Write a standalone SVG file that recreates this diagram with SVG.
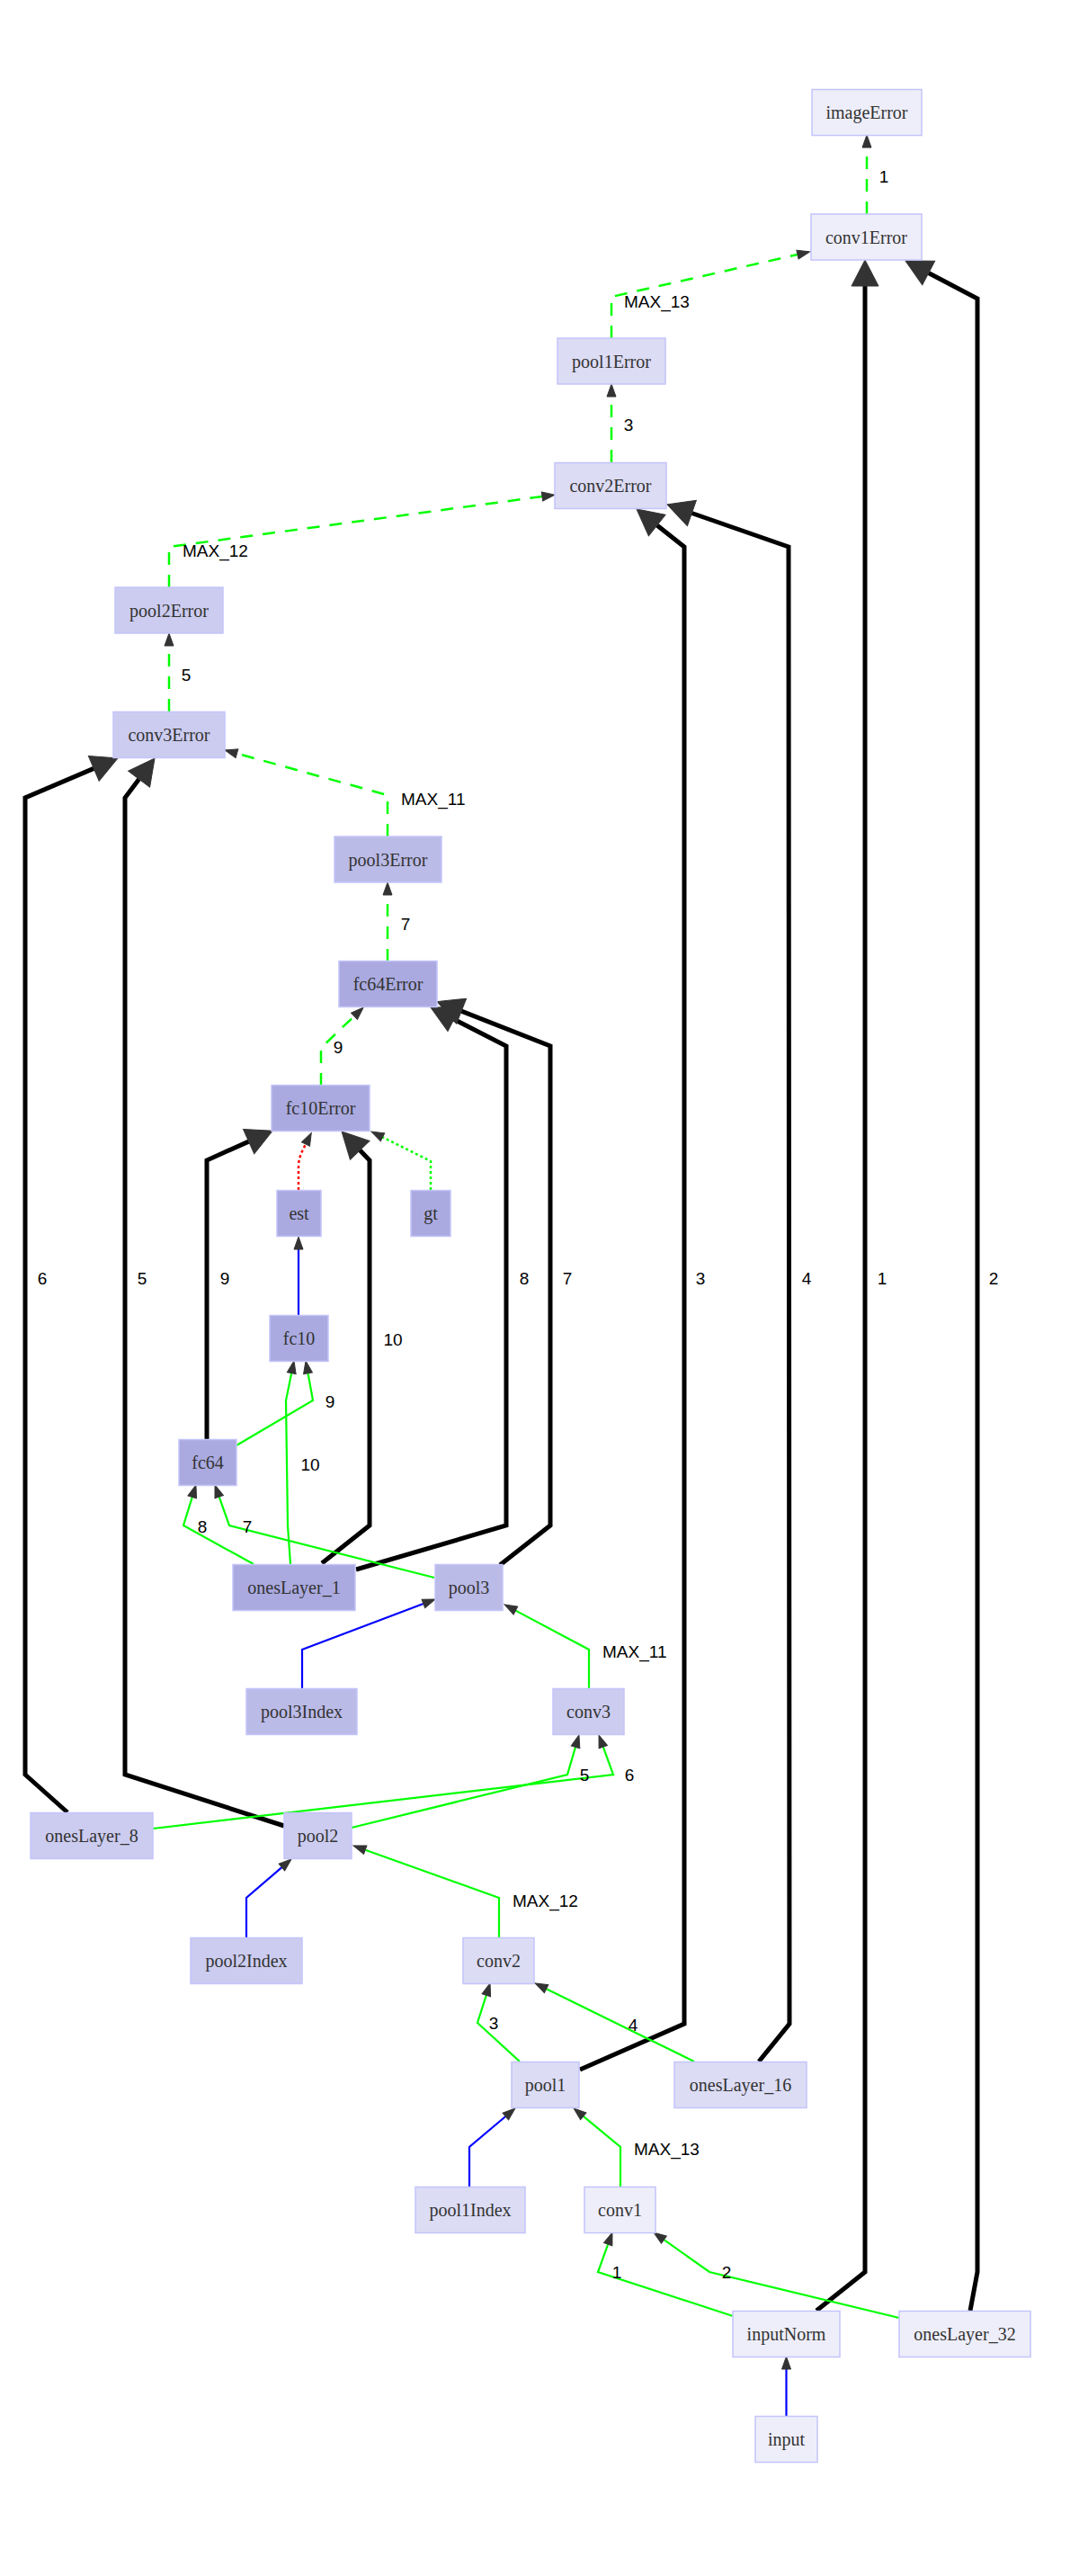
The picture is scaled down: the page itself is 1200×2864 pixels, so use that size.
<svg xmlns="http://www.w3.org/2000/svg" width="1200" height="2864" viewBox="0 0 1200 2864">
<style>
.n rect{stroke:#c4c4fb;stroke-width:1.5}
.n text{font-family:"Liberation Serif","Times New Roman",serif;font-size:20px;fill:#333;text-anchor:middle}
.l0{fill:#eeeefa}.l1{fill:#dcdcf5}.l2{fill:#ccccf0}.l3{fill:#bbbbe8}.l4{fill:#aaaae0}
.e{fill:none}
.gd{stroke:#00ff00;stroke-width:2.5;stroke-dasharray:14,11;marker-end:url(#sa)}
.gs{stroke:#00ff00;stroke-width:2.2;marker-end:url(#sa)}
.bs{stroke:#0000ff;stroke-width:2.2;marker-end:url(#sa)}
.rdot{stroke:#ff0000;stroke-width:2.5;stroke-dasharray:3,3;marker-end:url(#sa)}
.gdot{stroke:#00ff00;stroke-width:2.5;stroke-dasharray:3,3;marker-end:url(#sa)}
.tk{stroke:#000;stroke-width:5;marker-end:url(#ba)}
.lb{font-family:"Liberation Sans",Arial,sans-serif;font-size:19px;fill:#000}
.c{text-anchor:middle}
</style>
<defs>
<marker id="sa" markerUnits="userSpaceOnUse" viewBox="0 0 14 10" markerWidth="14" markerHeight="10" refX="0" refY="5" orient="auto" overflow="visible"><path d="M0,0 L14,5 L0,10 z" fill="#333" stroke="#333" stroke-width="1"/></marker>
<marker id="ba" markerUnits="userSpaceOnUse" viewBox="0 0 29 30" markerWidth="29" markerHeight="30" refX="0" refY="15" orient="auto" overflow="visible"><path d="M0,0 L29,15 L0,30 z" fill="#333" stroke="#333" stroke-width="1"/></marker>
</defs>
<rect width="1200" height="2864" fill="#fff"/>

<g id="connectors">
<!-- error (dashed) -->
<path class="e gd" d="M964,238 L964,164"/>
<path class="e gd" d="M680,376 L680,330 L887,283"/>
<path class="e gd" d="M680,514 L680,441"/>
<path class="e gd" d="M188,653 L188,608 L603,552"/>
<path class="e gd" d="M188,791 L188,718"/>
<path class="e gd" d="M431,930 L431,884 L263.5,837.7"/>
<path class="e gd" d="M431,1069 L431,995"/>
<path class="e gd" d="M357,1207 L357,1165 L394,1129.7"/>
<path class="e rdot" d="M332,1323 L332,1297 C332,1287 336,1280 340,1272"/>
<path class="e gdot" d="M479,1323 L479,1291 L425.5,1264.3"/>
<path class="e bs" d="M332,1463 L332,1389"/>
<!-- thick -->
<path class="e tk" d="M908,2569 L962,2526 L962,318"/>
<path class="e tk" d="M1079,2569 L1087,2526 L1087,332 L1032.7,303.5"/>
<path class="e tk" d="M645,2301 L761,2250 L761,608 L730.7,584"/>
<path class="e tk" d="M844,2292 L878,2250 L877,608 L769.4,570.5"/>
<path class="e tk" d="M75,2015 L28,1973 L28,887 L104.3,854.4"/>
<path class="e tk" d="M316,2030 L139,1973 L139,887 L154.6,866.2"/>
<path class="e tk" d="M230,1601 L230,1290 L276.6,1269.1"/>
<path class="e tk" d="M358,1738 L411,1696 L411,1290 L400.2,1278.8"/>
<path class="e tk" d="M396,1745 L563,1696 L563,1163 L504.8,1133.2"/>
<path class="e tk" d="M556,1740 L612,1696 L612,1163 L513.1,1124.2"/>
<!-- forward -->
<path class="e gs" d="M483,1754 L255,1696 L243.7,1664.2"/>
<path class="e gs" d="M282,1739 L204,1696 L213.8,1664.4"/>
<path class="e gs" d="M323,1739 L320,1696 L318,1557 L324.2,1526.7"/>
<path class="e gs" d="M263,1607 L348,1557 L342.5,1526.8"/>
<path class="e bs" d="M336,1877 L336,1834 L470.9,1783"/>
<path class="e gs" d="M655,1877 L655,1834 L573.4,1790.6"/>
<path class="e gs" d="M391,2032 L631,1973 L640,1942.4"/>
<path class="e gs" d="M170,2033 L682,1973 L670.8,1942.2"/>
<path class="e gs" d="M555,2154 L555,2110 L406.2,2056.7"/>
<path class="e bs" d="M274,2154 L274,2110 L313.4,2076.1"/>
<path class="e gs" d="M578,2292 L531,2249 L540.8,2218.3"/>
<path class="e gs" d="M772,2292 L607.6,2211.2"/>
<path class="e gs" d="M690,2431 L690,2387 L648.8,2352.9"/>
<path class="e bs" d="M522,2431 L522,2387 L562.3,2353"/>
<path class="e gs" d="M815,2575 L665,2526 L676.2,2495.2"/>
<path class="e gs" d="M1000,2577 L789,2526 L738.4,2490.1"/>
<path class="e bs" d="M874.5,2687 L874.5,2634"/>
<!-- labels -->
<text class="lb c" x="983" y="203">1</text>
<text class="lb" x="694" y="342">MAX_13</text>
<text class="lb c" x="699" y="479">3</text>
<text class="lb" x="203" y="619">MAX_12</text>
<text class="lb c" x="207" y="757">5</text>
<text class="lb" x="446" y="895">MAX_11</text>
<text class="lb c" x="451" y="1034">7</text>
<text class="lb c" x="376" y="1171">9</text>
<text class="lb c" x="47" y="1428">6</text>
<text class="lb c" x="158" y="1428">5</text>
<text class="lb c" x="250" y="1428">9</text>
<text class="lb c" x="583" y="1428">8</text>
<text class="lb c" x="631" y="1428">7</text>
<text class="lb c" x="779" y="1428">3</text>
<text class="lb c" x="897" y="1428">4</text>
<text class="lb c" x="981" y="1428">1</text>
<text class="lb c" x="1105" y="1428">2</text>
<text class="lb c" x="437" y="1496">10</text>
<text class="lb c" x="367" y="1565">9</text>
<text class="lb c" x="345" y="1635">10</text>
<text class="lb c" x="225" y="1704">8</text>
<text class="lb c" x="275" y="1704">7</text>
<text class="lb" x="670" y="1843">MAX_11</text>
<text class="lb c" x="650" y="1980">5</text>
<text class="lb c" x="700" y="1980">6</text>
<text class="lb" x="570" y="2120">MAX_12</text>
<text class="lb c" x="549" y="2256">3</text>
<text class="lb c" x="704" y="2258">4</text>
<text class="lb" x="705" y="2396">MAX_13</text>
<text class="lb c" x="686" y="2533">1</text>
<text class="lb c" x="808" y="2533">2</text>
</g>

<g id="imageError" class="n"><rect class="l0" x="903" y="99.5" width="122" height="51"/><text x="964" y="132">imageError</text></g>
<g id="conv1Error" class="n"><rect class="l0" x="902" y="238" width="123" height="51"/><text x="963.5" y="270.5">conv1Error</text></g>
<g id="pool1Error" class="n"><rect class="l1" x="620" y="376" width="120" height="51"/><text x="680" y="408.5">pool1Error</text></g>
<g id="conv2Error" class="n"><rect class="l1" x="617" y="514.5" width="124" height="51"/><text x="679" y="547">conv2Error</text></g>
<g id="pool2Error" class="n"><rect class="l2" x="128" y="653" width="120" height="51"/><text x="188" y="685.5">pool2Error</text></g>
<g id="conv3Error" class="n"><rect class="l2" x="126" y="791.5" width="124" height="51"/><text x="188" y="824">conv3Error</text></g>
<g id="pool3Error" class="n"><rect class="l3" x="372" y="930" width="119" height="51"/><text x="431.5" y="962.5">pool3Error</text></g>
<g id="fc64Error" class="n"><rect class="l4" x="377" y="1068.5" width="109" height="51"/><text x="431.5" y="1101">fc64Error</text></g>
<g id="fc10Error" class="n"><rect class="l4" x="302" y="1206.5" width="109" height="51"/><text x="356.5" y="1239">fc10Error</text></g>
<g id="est" class="n"><rect class="l4" x="308" y="1323.5" width="49" height="51"/><text x="332.5" y="1356">est</text></g>
<g id="gt" class="n"><rect class="l4" x="457" y="1323.5" width="44" height="51"/><text x="479" y="1356">gt</text></g>
<g id="fc10" class="n"><rect class="l4" x="300" y="1462.5" width="65" height="51"/><text x="332.5" y="1495">fc10</text></g>
<g id="fc64" class="n"><rect class="l4" x="199" y="1600.5" width="64" height="51"/><text x="231" y="1633">fc64</text></g>
<g id="onesLayer_1" class="n"><rect class="l4" x="259" y="1739.5" width="136" height="51"/><text x="327" y="1772">onesLayer_1</text></g>
<g id="pool3" class="n"><rect class="l3" x="484" y="1739.5" width="75" height="51"/><text x="521.5" y="1772">pool3</text></g>
<g id="pool3Index" class="n"><rect class="l3" x="274" y="1877.5" width="123" height="51"/><text x="335.5" y="1910">pool3Index</text></g>
<g id="conv3" class="n"><rect class="l2" x="615" y="1877.5" width="79" height="51"/><text x="654.5" y="1910">conv3</text></g>
<g id="onesLayer_8" class="n"><rect class="l2" x="34" y="2015.5" width="136" height="51"/><text x="102" y="2048">onesLayer_8</text></g>
<g id="pool2" class="n"><rect class="l2" x="316" y="2015.5" width="75" height="51"/><text x="353.5" y="2048">pool2</text></g>
<g id="pool2Index" class="n"><rect class="l2" x="212" y="2154.5" width="124" height="51"/><text x="274" y="2187">pool2Index</text></g>
<g id="conv2" class="n"><rect class="l1" x="515" y="2154.5" width="79" height="51"/><text x="554.5" y="2187">conv2</text></g>
<g id="pool1" class="n"><rect class="l1" x="569" y="2292.5" width="75" height="51"/><text x="606.5" y="2325">pool1</text></g>
<g id="onesLayer_16" class="n"><rect class="l1" x="750" y="2292.5" width="147" height="51"/><text x="823.5" y="2325">onesLayer_16</text></g>
<g id="pool1Index" class="n"><rect class="l1" x="462" y="2431.5" width="122" height="51"/><text x="523" y="2464">pool1Index</text></g>
<g id="conv1" class="n"><rect class="l0" x="650" y="2431.5" width="79" height="51"/><text x="689.5" y="2464">conv1</text></g>
<g id="inputNorm" class="n"><rect class="l0" x="815" y="2569.5" width="119" height="51"/><text x="874.5" y="2602">inputNorm</text></g>
<g id="onesLayer_32" class="n"><rect class="l0" x="1000" y="2569.5" width="146" height="51"/><text x="1073" y="2602">onesLayer_32</text></g>
<g id="input" class="n"><rect class="l0" x="840" y="2686.5" width="69" height="51"/><text x="874.5" y="2719">input</text></g>
</svg>
